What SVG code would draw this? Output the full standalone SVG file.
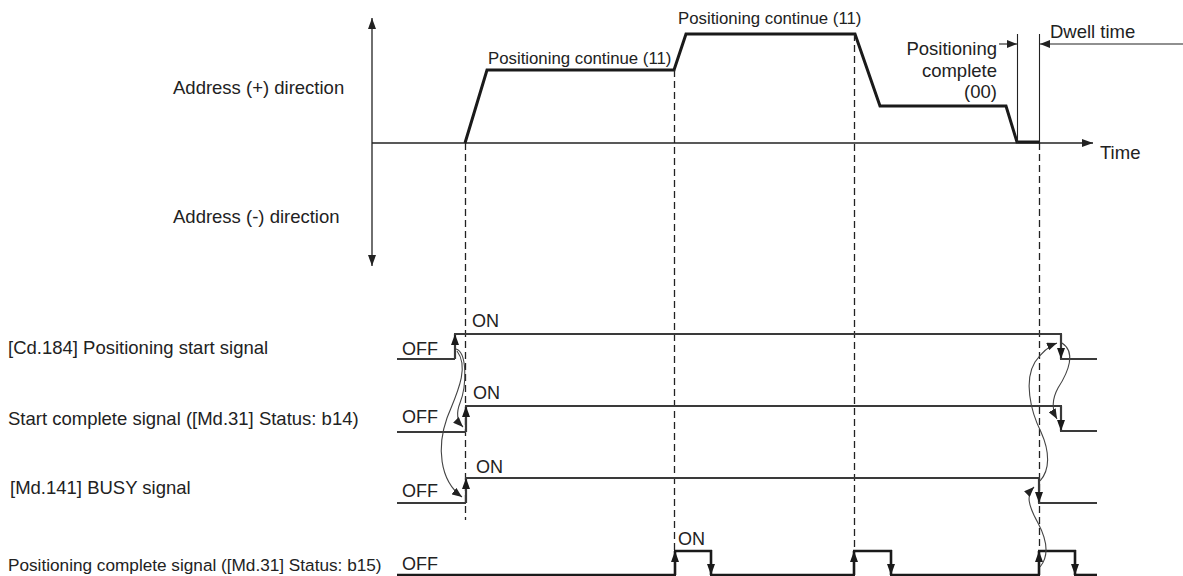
<svg xmlns="http://www.w3.org/2000/svg" width="1183" height="576" viewBox="0 0 1183 576">
<style>
text{font-family:"Liberation Sans",Arial,sans-serif;fill:#222;}
.lbl{font-size:18.5px;}
.lbs{font-size:17.2px;}
.st{font-size:18px;}
.pc{font-size:16.8px;}
.prof{fill:none;stroke:#1a1a1a;stroke-width:3;stroke-linejoin:miter;}
.axis{fill:none;stroke:#222;stroke-width:1.3;}
.dash{fill:none;stroke:#222;stroke-width:1.3;stroke-dasharray:7,4;}
.sig{fill:none;stroke:#3a3a3a;stroke-width:2.2;}
.pcs{fill:none;stroke:#1a1a1a;stroke-width:2.6;}
.cur{fill:none;stroke:#444;stroke-width:1.1;}
.thin{fill:none;stroke:#222;stroke-width:1.1;}
</style>
<defs>
<marker id="ax" markerUnits="userSpaceOnUse" markerWidth="12" markerHeight="8" refX="11" refY="4" orient="auto"><path d="M0,0 L11,4 L0,8 z" fill="#222"/></marker>
<marker id="sa" markerUnits="userSpaceOnUse" markerWidth="11" markerHeight="8" refX="11" refY="4" orient="auto"><path d="M0,0 L11,4 L0,8 z" fill="#1a1a1a"/></marker>
<marker id="ca" markerUnits="userSpaceOnUse" markerWidth="11" markerHeight="8" refX="10" refY="4" orient="auto"><path d="M0,0 L10,4 L0,8 z" fill="#222"/></marker>
<marker id="da" markerUnits="userSpaceOnUse" markerWidth="11" markerHeight="8" refX="10" refY="4" orient="auto"><path d="M0,0 L10,4 L0,8 z" fill="#222"/></marker>
</defs>

<g id="axes">
<line class="axis" x1="372" y1="143" x2="372" y2="18" marker-end="url(#ax)"/>
<line class="axis" x1="372" y1="143" x2="372" y2="266" marker-end="url(#ax)"/>
<line class="axis" x1="372" y1="143" x2="1093" y2="143" marker-end="url(#ax)"/>
<text class="lbl" x="173" y="94">Address (+) direction</text>
<text class="lbl" x="173" y="223">Address (-) direction</text>
<text class="lbl" x="1100" y="159">Time</text>
</g>

<g id="profile">
<polyline class="prof" points="465,143 487,70 674,70 686,34 855,34 880,106 1006,106 1017,142 1039,142"/>
<text class="pc" x="488" y="64">Positioning continue (11)</text>
<text class="pc" x="678" y="24">Positioning continue (11)</text>
<text class="lbl" x="997" y="55" text-anchor="end">Positioning</text>
<text class="lbl" x="997" y="77" text-anchor="end">complete</text>
<text class="lbl" x="997" y="98" text-anchor="end">(00)</text>
</g>

<g id="dwell">
<line class="thin" x1="1017.5" y1="34" x2="1017.5" y2="143"/>
<line class="thin" x1="1039.5" y1="34" x2="1039.5" y2="143"/>
<line class="thin" x1="999" y1="44" x2="1017" y2="44" marker-end="url(#da)"/>
<line class="thin" x1="1183" y1="44" x2="1040" y2="44" marker-end="url(#da)"/>
<text class="lbl" x="1050" y="38">Dwell time</text>
</g>

<g id="guides">
<line class="dash" x1="465.5" y1="143" x2="465.5" y2="520"/>
<line class="dash" x1="674.5" y1="70" x2="674.5" y2="551"/>
<line class="dash" x1="854.5" y1="34" x2="854.5" y2="551"/>
<line class="dash" x1="1039.5" y1="143" x2="1039.5" y2="551"/>
</g>

<g id="sig-start">
<text class="lbl" x="8" y="354">[Cd.184] Positioning start signal</text>
<text class="st" x="402" y="355">OFF</text>
<text class="st" x="472" y="327">ON</text>
<line class="sig" x1="397" y1="359" x2="455" y2="359"/>
<line class="sig" x1="455" y1="359" x2="455" y2="334" marker-end="url(#sa)"/>
<line class="sig" x1="454" y1="334" x2="1062" y2="334"/>
<line class="sig" x1="1061" y1="334" x2="1061" y2="359" marker-end="url(#sa)"/>
<line class="sig" x1="1060" y1="359" x2="1097" y2="359"/>
</g>

<g id="sig-startcomplete">
<text class="lbl" x="8" y="425">Start complete signal ([Md.31] Status: b14)</text>
<text class="st" x="402" y="423">OFF</text>
<text class="st" x="473" y="399">ON</text>
<line class="sig" x1="397" y1="432" x2="466" y2="432"/>
<line class="sig" x1="466" y1="432" x2="466" y2="406" marker-end="url(#sa)"/>
<line class="sig" x1="465" y1="406" x2="1062" y2="406"/>
<line class="sig" x1="1061" y1="406" x2="1061" y2="431" marker-end="url(#sa)"/>
<line class="sig" x1="1060" y1="431" x2="1097" y2="431"/>
</g>

<g id="sig-busy">
<text class="lbl" x="10" y="494">[Md.141] BUSY signal</text>
<text class="st" x="402" y="497">OFF</text>
<text class="st" x="476" y="473">ON</text>
<line class="sig" x1="397" y1="503" x2="466" y2="503"/>
<line class="sig" x1="466" y1="503" x2="466" y2="478" marker-end="url(#sa)"/>
<line class="sig" x1="465" y1="478" x2="1040" y2="478"/>
<line class="sig" x1="1039" y1="478" x2="1039" y2="503" marker-end="url(#sa)"/>
<line class="sig" x1="1038" y1="503" x2="1097" y2="503"/>
</g>

<g id="sig-poscomplete">
<text class="lbs" x="8" y="571">Positioning complete signal ([Md.31] Status: b15)</text>
<text class="st" x="402" y="570">OFF</text>
<text class="st" x="678" y="545">ON</text>
<line class="pcs" x1="397" y1="575" x2="676" y2="575"/>
<line class="pcs" x1="675" y1="575" x2="675" y2="551" marker-end="url(#sa)"/>
<line class="pcs" x1="674" y1="551" x2="712" y2="551"/>
<line class="pcs" x1="711" y1="550" x2="711" y2="575" marker-end="url(#sa)"/>
<line class="pcs" x1="710" y1="575" x2="855" y2="575"/>
<line class="pcs" x1="854" y1="575" x2="854" y2="551" marker-end="url(#sa)"/>
<line class="pcs" x1="853" y1="551" x2="892" y2="551"/>
<line class="pcs" x1="891" y1="550" x2="891" y2="575" marker-end="url(#sa)"/>
<line class="pcs" x1="890" y1="575" x2="1040" y2="575"/>
<line class="pcs" x1="1039" y1="575" x2="1039" y2="551" marker-end="url(#sa)"/>
<line class="pcs" x1="1038" y1="551" x2="1076" y2="551"/>
<line class="pcs" x1="1075" y1="550" x2="1075" y2="575" marker-end="url(#sa)"/>
<line class="pcs" x1="1074" y1="575" x2="1097" y2="575"/>
</g>

<g id="connectors">
<path class="cur" d="M456,349 C467,352 467,385 460,403 C456,413 457,421 463,427" marker-end="url(#ca)"/>
<path class="cur" d="M457,351 C470,368 456,395 447,418 C437,446 439,480 462,497" marker-end="url(#ca)"/>
<path class="cur" d="M1040,481 C1050,470 1050,452 1041,432 C1030,410 1024,380 1035,362 C1042,352 1049,346 1057,343" marker-end="url(#ca)"/>
<path class="cur" d="M1062,343 C1076,352 1069,371 1058,388 C1052,399 1052,410 1057,419" marker-end="url(#ca)"/>
<path class="cur" d="M1040,567 C1050,555 1047,540 1038,523 C1028,505 1026,495 1034,487" marker-end="url(#ca)"/>
</g>
</svg>
